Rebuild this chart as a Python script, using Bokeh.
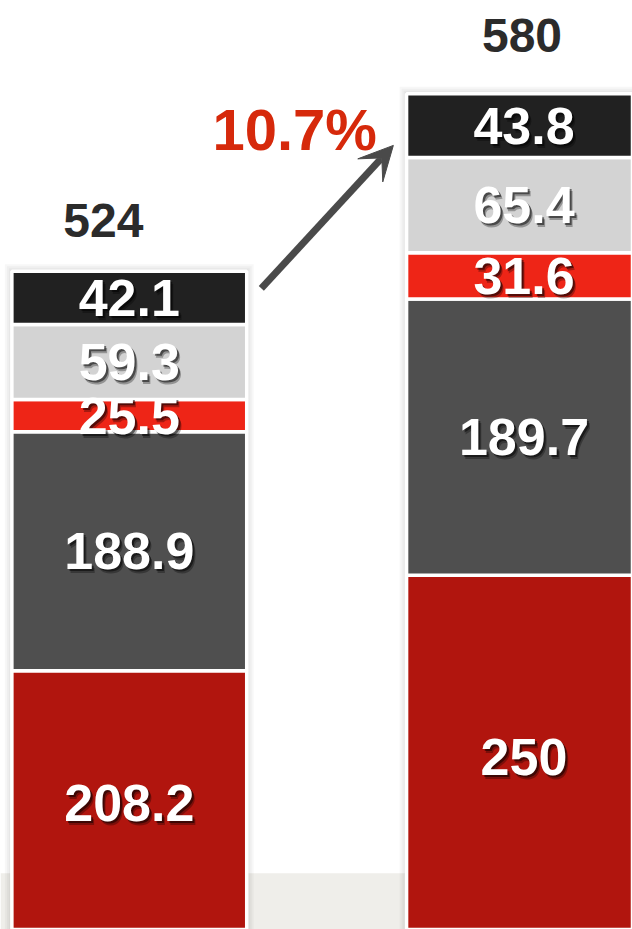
import numpy as np
from bokeh.plotting import figure
from bokeh.models import Range1d, ColumnDataSource, Arrow, VeeHead, BoxAnnotation
from bokeh.core.properties import value
from bokeh.embed import file_html
from bokeh.resources import INLINE

# ---------------- data ----------------
periods = ["Period 1", "Period 2"]
segments = ["Segment A", "Segment B", "Segment C", "Segment D", "Segment E"]  # bottom -> top
values_p1 = [208.2, 188.9, 25.5, 59.3, 42.1]
values_p2 = [250.0, 189.7, 31.6, 65.4, 43.8]
totals = [524, 580]
colors = ["#b1150e", "#4f4f4f", "#ee2517", "#d3d3d3", "#212121"]

growth = (totals[1] - totals[0]) / totals[0] * 100.0
growth_label = f"{growth:.1f}%"

# ---------------- figure ----------------
W, H = 632, 929
X0, X1 = -0.3263, 1.2749
p = figure(width=W, height=H, output_backend="svg", toolbar_location=None,
           x_range=Range1d(X0, X1), y_range=Range1d(3.79, 737.9),
           min_border=0)
p.extra_y_ranges = {"right": Range1d(6.86, 644.5)}
p.axis.visible = False
p.grid.visible = False
p.outline_line_color = None
p.background_fill_color = "white"
p.border_fill_color = "white"

# floor band
p.add_layout(BoxAnnotation(top=48.3, fill_color="#efeeea", fill_alpha=1.0,
                           line_color=None, level="underlay"))

bar_w = 0.595
FONT = value("Liberation Sans")
px_x = (X1 - X0) / W

series = [values_p1, values_p2]
rng_names = ["default", "right"]
rng_objs = [p.y_range, p.extra_y_ranges["right"]]

for i, (vals, rname, robj) in enumerate(zip(series, rng_names, rng_objs)):
    vals = np.array(vals)
    tops = np.cumsum(vals)
    bottoms = tops - vals
    px_y = (robj.end - robj.start) / H
    # soft shadow behind the bar
    for k in (7, 5, 3, 1.5):
        p.vbar(x=[i], width=bar_w + 2 * k * px_x, bottom=robj.start,
               top=tops[-1] + k * px_y, fill_color="black", fill_alpha=0.03,
               line_color=None, y_range_name=rname)
    src = ColumnDataSource(dict(
        x=[i] * len(vals), bottom=bottoms, top=tops, color=colors,
        mid=bottoms + vals / 2.0,
        label=[f"{v:g}" for v in vals],
    ))
    p.vbar(x="x", width=bar_w, bottom="bottom", top="top", fill_color="color",
           line_color="white", line_width=3.5, source=src, y_range_name=rname)
    # label shadow (two soft layers)
    for (dx, dy, a) in ((3, 4, 0.3), (2, 2, 0.5)):
        p.text(x="x", y="mid", text="label", source=src, text_align="center",
               text_baseline="middle", text_font=FONT, text_font_style="bold",
               text_font_size="52px", text_color="black", text_alpha=a,
               x_offset=dx, y_offset=dy, y_range_name=rname)
    p.text(x="x", y="mid", text="label", source=src, text_align="center",
           text_baseline="middle", text_font=FONT, text_font_style="bold",
           text_font_size="52px", text_color="white", y_range_name=rname)

# totals above bars
p.text(x=[0], y=[sum(values_p1) + 39.7], text=[str(totals[0])], x_offset=-26,
       text_align="center", text_baseline="middle", text_font=FONT,
       text_font_style="bold", text_font_size="48px", text_color="#2b2b2b")
p.text(x=[1], y=[sum(values_p2) + 40], text=[str(totals[1])], x_offset=-2,
       text_align="center", text_baseline="middle", text_font=FONT,
       text_font_style="bold", text_font_size="48px", text_color="#2b2b2b",
       y_range_name="right")

# growth arrow and label
arrow_color = "#4a4a4a"
p.add_layout(Arrow(end=VeeHead(size=34, fill_color=arrow_color, line_color=arrow_color),
                   x_start=bar_w / 2 + 0.037, y_start=totals[0] - 13.6,
                   x_end=1 - 0.331, y_end=totals[0] + 99.4,
                   line_color=arrow_color, line_width=7))
p.text(x=[0.419], y=[totals[0] + 111.7], text=[growth_label], text_align="center",
       text_baseline="middle", text_font=FONT, text_font_style="bold",
       text_font_size="58px", text_color="#d6290b")

open("out.html", "w").write(file_html(p, INLINE))
